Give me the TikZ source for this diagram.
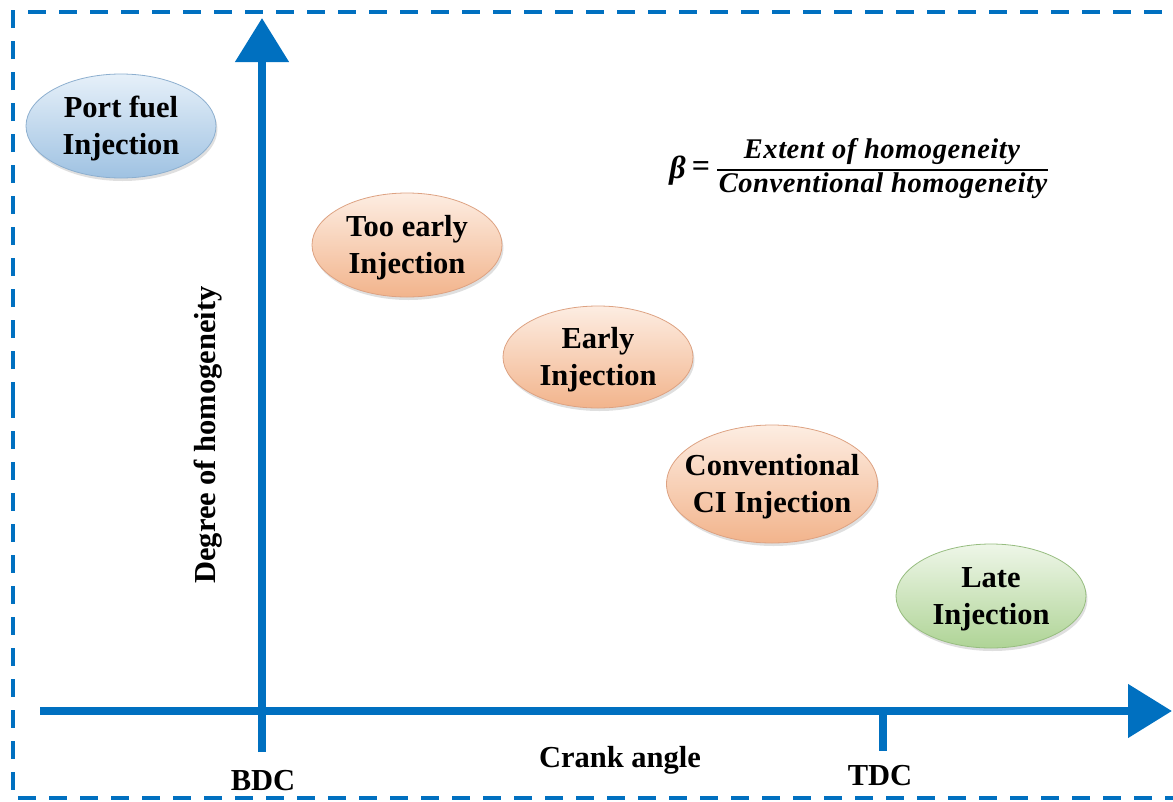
\documentclass[tikz,border=0pt]{standalone}
\usepackage{fontspec}
\setmainfont{Liberation Serif}
\newfontfamily\formfont{Liberation Serif}[LetterSpace=2]
\usetikzlibrary{arrows.meta,shapes.geometric,shadows}
\definecolor{axblue}{HTML}{0070C0}
\definecolor{bluetop}{HTML}{E6F0F9}
\definecolor{bluebot}{HTML}{9FC2E2}
\definecolor{blueedge}{HTML}{8DAFCF}
\definecolor{orgtop}{HTML}{FDEDE2}
\definecolor{orgbot}{HTML}{F2B48C}
\definecolor{orgedge}{HTML}{DDA282}
\definecolor{grntop}{HTML}{EEF6E8}
\definecolor{grnbot}{HTML}{AFD496}
\definecolor{grnedge}{HTML}{97BD80}
\newcommand{\zl}[1]{\makebox[0pt][c]{\raisebox{-3pt}[\height][\depth]{#1}}}
\begin{document}
\begin{tikzpicture}[x=1pt,y=-1pt,
  axis/.style={draw=axblue, line width=8pt, -{Triangle[length=44pt,width=52pt]}},
  tickline/.style={draw=axblue, line width=8pt},
  border/.style={draw=axblue, line width=3.5pt, dash pattern=on 18pt off 13pt},
  lbl/.style={font=\fontsize{30.5}{37}\selectfont\bfseries, text=black, inner sep=0pt, align=center},
  bubble/.style={ellipse, inner sep=0pt, minimum width=190pt, minimum height=104pt,
    lbl, line width=0.8pt, drop shadow={shadow xshift=1.5pt, shadow yshift=-3pt, opacity=0.25}},
  bluebub/.style={bubble, draw=blueedge, top color=bluetop, bottom color=bluebot},
  orgbub/.style={bubble, draw=orgedge, top color=orgtop, bottom color=orgbot},
  grnbub/.style={bubble, draw=grnedge, top color=grntop, bottom color=grnbot},
  form/.style={font=\formfont\fontsize{28.5}{36}\selectfont\bfseries\itshape, inner sep=0pt}
]
\useasboundingbox (0,0) rectangle (1173,801);
\begin{scope}
  \clip (0,0) rectangle (1173,801);
  \draw[border] (13,400) -- (13,12) -- (1200,12);
  \draw[border] (13,400) -- (13,798) -- (1200,798);
\end{scope}

% axes
\coordinate (yb) at (262,752);
\coordinate (yt) at (262,18);
\coordinate (xl) at (40,711);
\coordinate (xr) at (1172,711);
\draw[axis] (yb) -- (yt);
\draw[axis] (xl) -- (xr);
\coordinate (tdc) at (883,711);
\coordinate (tdcb) at (883,751);
\draw[tickline] (tdc) -- (tdcb);

% axis labels
\node[lbl] (bdclbl) at (263,781) {BDC};
\node[lbl] (tdclbl) at (880,776) {TDC};
\node[lbl] (cranklbl) at (620,760) {Crank angle};
\node[lbl, rotate=90] (deglbl) at (208,435) {Degree of homogeneity};

% bubbles
\node[bluebub] (pfi) at (121,126) {\zl{Port fuel}\\\zl{Injection}};
\node[orgbub] (tooearly) at (407,245) {\zl{Too early}\\\zl{Injection}};
\node[orgbub, minimum height=102pt] (early) at (598,357) {\zl{Early}\\\zl{Injection}};
\node[orgbub, minimum width=211pt, minimum height=118pt] (conv) at (772,484) {\zl{Conventional}\\\zl{CI Injection}};
\node[grnbub] (late) at (991,596) {\zl{Late}\\\zl{Injection}};

% formula
\node[form, anchor=east, font=\formfont\fontsize{32}{36}\selectfont\bfseries\itshape] (beta) at (686,171) {β};
\node[inner sep=0pt, font=\fontsize{32}{36}\selectfont\bfseries] (eq) at (701,169) {=};
\node[form] (num) at (882,152) {Extent of homogeneity};
\node[form] (den) at (883,186) {Conventional homogeneity};
\coordinate (barl) at (717,170);
\coordinate (barr) at (1048,170);
\draw[line width=2pt, black] (barl) -- (barr);
\end{tikzpicture}
\end{document}
